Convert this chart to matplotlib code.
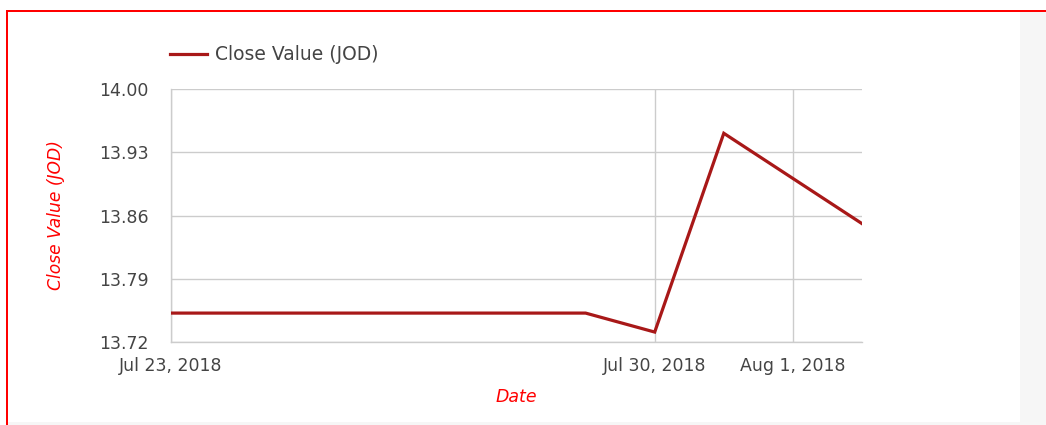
import matplotlib
matplotlib.use("Agg")
import matplotlib.pyplot as plt
from matplotlib.patches import Rectangle
from matplotlib.lines import Line2D
import pandas as pd

# data
dates = pd.to_datetime(["2018-07-23", "2018-07-29", "2018-07-30",
                        "2018-07-31", "2018-08-01", "2018-08-02"])
close_values = [13.752, 13.752, 13.731, 13.951, 13.901, 13.851]
y_ticks = [13.72, 13.79, 13.86, 13.93, 14.00]
x_ticks = pd.to_datetime(["2018-07-23", "2018-07-30", "2018-08-01"])
x_labels = ["Jul 23, 2018", "Jul 30, 2018", "Aug 1, 2018"]

W, H = 1046, 425
fig = plt.figure(figsize=(W / 100, H / 100), dpi=100)
fig.patch.set_facecolor("white")

# page background / card frame
def px_rect(x0, y0, x1, y1, color):
    fig.patches.append(Rectangle((x0 / W, 1 - y1 / H), (x1 - x0) / W, (y1 - y0) / H,
                                 transform=fig.transFigure, facecolor=color,
                                 edgecolor="none", zorder=0))

px_rect(1020, 12, W, H, "#f6f6f6")
px_rect(8, 422, W, H, "#f6f6f6")
px_rect(6, 10, W, 12, "#ff0000")
px_rect(6, 10, 8, H, "#ff0000")

ax = fig.add_axes([171 / W, 1 - 342 / H, (862 - 171) / W, (342 - 89) / H])
ax.set_facecolor("white")

line_color = "#a81818"
ax.plot(dates, close_values, color=line_color, lw=2.3, solid_joinstyle="miter", zorder=3)

ax.set_xlim(pd.Timestamp("2018-07-23"), pd.Timestamp("2018-08-02"))
ax.set_ylim(13.72, 14.00)
ax.set_yticks(y_ticks)
ax.set_yticklabels([f"{v:.2f}" for v in y_ticks])
ax.set_xticks(x_ticks)
ax.set_xticklabels(x_labels)

ax.grid(True, color="#cccccc", lw=1)
ax.set_axisbelow(True)
for side in ["top", "right"]:
    ax.spines[side].set_visible(False)
for side in ["left", "bottom"]:
    ax.spines[side].set_color("#cccccc")
    ax.spines[side].set_linewidth(1)

ax.tick_params(length=0, colors="#444444", labelsize=12.5)
ax.tick_params(axis="y", pad=16)
ax.tick_params(axis="x", pad=11)

ax.set_xlabel("Date", color="#ff0000", style="italic", fontsize=12.5, labelpad=9)
ax.set_ylabel("Close Value (JOD)", color="#ff0000", style="italic", fontsize=12.3)
ax.yaxis.set_label_coords((65 - 171) / (862 - 171), 0.5)

handle = Line2D([], [], color=line_color, lw=2.3)
leg = fig.legend([handle], ["Close Value (JOD)"], loc="center left",
                 bbox_to_anchor=(153 / W, 1 - 55 / H), frameon=False,
                 fontsize=13.5, handlelength=2.0, handletextpad=0.4)
for t in leg.get_texts():
    t.set_color("#444444")

fig.savefig("out.png", dpi=100)
